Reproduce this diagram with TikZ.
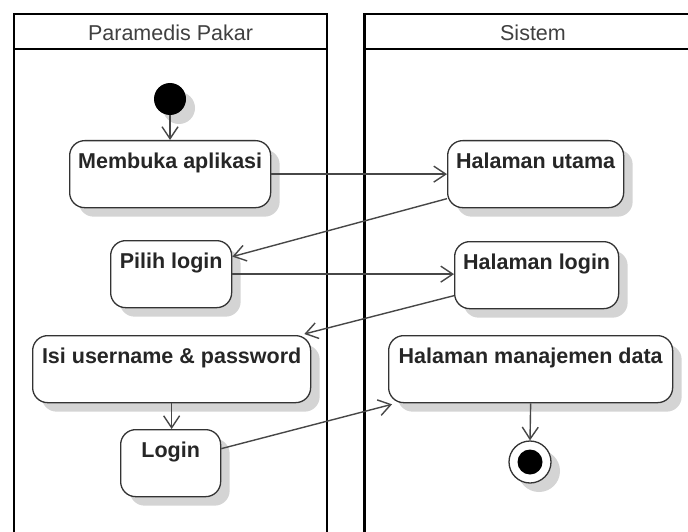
\documentclass[tikz,border=0pt]{standalone}
\usepackage{fontspec}
\setmainfont{Liberation Sans}
\usetikzlibrary{arrows.meta,shadows}
\begin{document}
\begin{tikzpicture}[x=1pt,y=-1pt,
  shad/.style={drop shadow={shadow xshift=9pt, shadow yshift=-9pt, fill=black!17, opacity=1}},
  act/.style={shad, rectangle, draw=black!80, line width=1.3pt, rounded corners=15pt, fill=white,
    anchor=north west, inner xsep=0pt, inner ysep=0pt, text height=28pt, text depth=39pt,
    font=\fontsize{21.5}{26}\selectfont\bfseries, text=black!85},
  lane/.style={draw=black, line width=2.6pt},
  hdr/.style={font=\fontsize{21.5}{26}\selectfont, text=black!75, inner sep=0pt},
  flow/.style={draw=black!72, line width=1.4pt, -{Straight Barb[length=12pt,width=16pt]}},
  startnode/.style={shad, circle, fill=black, inner sep=0pt, minimum size=32pt},
  endnode/.style={shad, circle, draw=black!80, line width=1.3pt, fill=white, inner sep=0pt, minimum size=42pt,
    path picture={\fill[black] (path picture bounding box.center) circle (12.5pt);}}
]
\useasboundingbox (0,0) rectangle (688,532);
\fill[white] (0,0) rectangle (688,532);
% swimlanes
\draw[lane] (14,14) rectangle (327,545);
\draw[lane] (14,49) -- (327,49);
\draw[lane] (364.5,545) -- (364.5,14) -- (720,14);
\draw[lane] (364.5,49) -- (720,49);
\node[hdr] (h1) at (170.5,33) {Paramedis Pakar};
\node[hdr] (h2) at (533,33) {Sistem};
% nodes
\node[startnode] (start) at (170,99) {};
\node[act, minimum width=201pt] (m) at (69,140) {Membuka aplikasi};
\node[act, minimum width=176pt] (hu) at (447,140) {Halaman utama};
\node[act, minimum width=121pt] (pl) at (110,240) {Pilih login};
\node[act, minimum width=164pt] (hl) at (454,241) {Halaman login};
\node[act, minimum width=278pt] (isi) at (32,335) {Isi username \& password};
\node[act, minimum width=284pt] (hm) at (388,335) {Halaman manajemen data};
\node[act, minimum width=100pt] (lg) at (120,429) {Login};
\node[endnode] (end) at (530,462) {};
% connectors
\draw[flow] (start) -- (start |- m.north);
\draw[flow] (m.east) -- (hu.west);
\draw[flow] ([yshift=-24.5pt]hu.west) -- ([yshift=17.5pt]pl.east);
\draw[flow] (pl.east) -- (pl.east -| hl.west);
\draw[flow] ([yshift=-20.5pt]hl.west) -- ([xshift=-7pt,yshift=1pt]isi.north east);
\draw[flow] (isi.south) -- (isi.south |- lg.north);
\draw[flow] ([yshift=14.5pt]lg.east) -- ([xshift=4pt,yshift=-1pt]hm.south west);
\draw[flow] (hm.south) -- (end.north);
\end{tikzpicture}
\end{document}
